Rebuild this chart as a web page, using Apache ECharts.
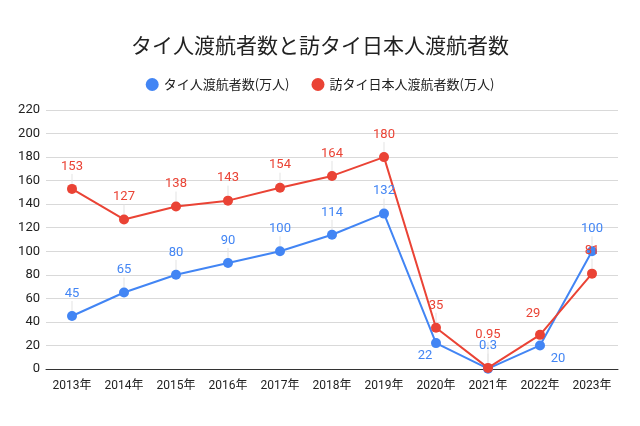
<!DOCTYPE html>
<html><head><meta charset="utf-8">
<script src="https://cdn.jsdelivr.net/npm/echarts@6/dist/echarts.min.js"></script>
<style>html,body{margin:0;padding:0;background:#fff}#c{width:640px;height:426px}</style>
</head><body><div id="c"></div>
<script>
const categories = ['2013年','2014年','2015年','2016年','2017年','2018年','2019年','2020年','2021年','2022年','2023年'];
const thaiVisitors = [45,65,80,90,100,114,132,22,0.3,20,100];
const japanVisitors = [153,127,138,143,154,164,180,35,0.95,29,81];
const yTicks = [0,20,40,60,80,100,120,140,160,180,200,220];
const seriesNames = ['タイ人渡航者数(万人)','訪タイ日本人渡航者数(万人)'];

const FONT = 'Roboto, "Noto Sans CJK JP", sans-serif';
const CJK = '"Noto Sans CJK JP", "Noto Sans", sans-serif';
const BLUE = '#4285F4', RED = '#EA4335';

// label shifts (dx, dy) relative to the default 'top' placement
const blueShift = {7: [-11, 35], 9: [18, 36]};
const redShift = {8: [0, -11], 9: [-7, 1]};

function shiftFn(shift) {
  return function (p) {
    const s = shift[p.dataIndex];
    return s ? {dx: s[0], dy: s[1]} : {};
  };
}

// annotation stems: from each point up to its label (skip labels placed below)
const stemData = [];
thaiVisitors.forEach((v, i) => { if (!(blueShift[i] && blueShift[i][1] > 0)) stemData.push([i, v, (blueShift[i] || [0, 0])[1]]); });
japanVisitors.forEach((v, i) => { if (!(redShift[i] && redShift[i][1] > 0)) stemData.push([i, v, (redShift[i] || [0, 0])[1]]); });

const chart = echarts.init(document.getElementById('c'));
chart.setOption({
  animation: false,
  textStyle: {fontFamily: FONT},
  title: {
    text: 'タイ人渡航者数と訪タイ日本人渡航者数',
    left: 'center', top: 30,
    textStyle: {fontFamily: CJK, fontSize: 21, fontWeight: 'normal', color: '#222'}
  },
  legend: {
    top: 73, left: 'center', icon: 'circle', itemWidth: 13, itemHeight: 13, itemGap: 22,
    textStyle: {fontFamily: CJK, fontSize: 13, color: '#222'},
    data: seriesNames
  },
  grid: {left: 46, right: 22, top: 110, bottom: 57},
  xAxis: {
    type: 'category', data: categories, boundaryGap: true,
    axisLine: {lineStyle: {color: '#333', width: 1}},
    axisTick: {show: false},
    axisLabel: {fontFamily: FONT, fontSize: 12, color: '#222', margin: 11, interval: 0}
  },
  yAxis: {
    type: 'value', min: yTicks[0], max: yTicks[yTicks.length - 1], interval: 20,
    axisLine: {show: false}, axisTick: {show: false},
    axisLabel: {fontFamily: FONT, fontSize: 13, color: '#222', margin: 6},
    splitLine: {lineStyle: {color: '#d9d9d9', width: 1}}
  },
  series: [
    {
      type: 'custom', name: 'stems', data: stemData, z: 1, silent: true,
      encode: {x: 0, y: 1},
      renderItem: function (params, api) {
        const p = api.coord([api.value(0), api.value(1)]);
        const extra = api.value(2);
        return {
          type: 'line',
          shape: {x1: p[0], y1: p[1], x2: p[0], y2: p[1] - 15 + extra},
          style: {stroke: '#e3e3e3', lineWidth: 1}
        };
      }
    },
    {
      name: seriesNames[0], type: 'line', data: thaiVisitors, z: 3,
      color: BLUE, symbol: 'circle', symbolSize: 10,
      lineStyle: {width: 2, color: BLUE}, itemStyle: {color: BLUE},
      label: {show: true, position: 'top', distance: 11, color: BLUE, fontSize: 13, fontFamily: FONT},
      labelLayout: shiftFn(blueShift)
    },
    {
      name: seriesNames[1], type: 'line', data: japanVisitors, z: 3,
      color: RED, symbol: 'circle', symbolSize: 10,
      lineStyle: {width: 2, color: RED}, itemStyle: {color: RED},
      label: {show: true, position: 'top', distance: 11, color: RED, fontSize: 13, fontFamily: FONT},
      labelLayout: shiftFn(redShift)
    }
  ]
});
</script></body></html>
